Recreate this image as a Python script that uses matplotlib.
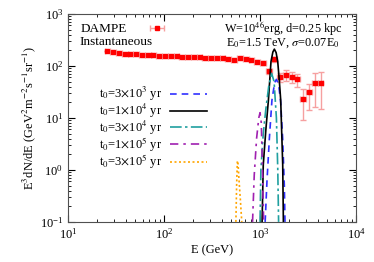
import numpy as np
import matplotlib
matplotlib.use("Agg")
import matplotlib.pyplot as plt

plt.rcParams["font.family"] = ["Liberation Serif", "DejaVu Serif"]
plt.rcParams["mathtext.fontset"] = "stix"

# dati DAMPE: bordi dei bin, centri, E^3 flux ed errori
bin_lo = [24.0, 27.5, 31.6, 36.3, 41.7, 47.9, 55.0, 63.1, 72.4, 83.2, 95.5, 109.6, 125.9,
          144.5, 166.0, 190.5, 218.8, 251.2, 288.4, 331.1, 380.2, 436.5, 501.2, 575.4,
          660.7, 758.6, 871.0, 1000, 1148, 1318, 1514, 1737, 1995, 2291, 2630, 3020, 3467, 3981]
bin_hi = [27.5, 31.6, 36.3, 41.7, 47.9, 55.0, 63.1, 72.4, 83.2, 95.5, 109.6, 125.9, 144.5,
          166.0, 190.5, 218.8, 251.2, 288.4, 331.1, 380.2, 436.5, 501.2, 575.4, 660.7,
          758.6, 871.0, 1000, 1148, 1318, 1514, 1737, 1995, 2291, 2630, 3020, 3467, 3981, 4570]
dampe_e = [25.7, 29.5, 33.9, 38.9, 44.7, 51.3, 58.9, 67.6, 77.6, 89.1, 102.3, 117.5, 134.9,
           154.9, 177.8, 204.2, 234.4, 269.2, 309.0, 354.8, 407.4, 467.7, 537.0, 616.6,
           708.0, 812.8, 933.3, 1071, 1230, 1413, 1622, 1862, 2138, 2455, 2818, 3236, 3715, 4266]
dampe_f = [194, 184, 178, 173, 169, 166, 163, 161, 159, 158, 156, 154, 152,
           150, 149, 147, 146, 144, 143, 141, 139, 137, 127, 141,
           137, 130, 121, 113, 80, 136, 62, 67, 60, 55, 23, 32, 46, 47]
err_dn = [3, 3, 3, 3, 3, 3, 3, 3, 3, 3, 3, 3, 3,
          3, 3, 3, 3, 3, 3, 4, 4, 4, 5, 5,
          6, 7, 8, 9, 9, 15, 12, 15, 14, 15, 14, 18, 30, 32]
err_up = [3, 3, 3, 3, 3, 3, 3, 3, 3, 3, 3, 3, 3,
          3, 3, 3, 3, 3, 3, 4, 4, 4, 5, 5,
          6, 7, 8, 9, 9, 15, 12, 17, 16, 14, 13, 12, 27, 30]

# curve dei modelli
e_3e3 = [1130, 1180, 1250, 1330, 1420, 1480, 1560, 1640, 1720, 1790, 1820]
f_3e3 = [0.1, 0.6, 4, 22, 48, 55, 45, 20, 4, 0.5, 0.1]
e_1e4 = [1050, 1080, 1150, 1222, 1300, 1360, 1410, 1470, 1528, 1590, 1641, 1722, 1750]
f_1e4 = [0.1, 1.25, 6, 22, 121, 185, 210, 180, 121, 50, 22, 1.25, 0.1]
e_3e4 = [1000, 1020, 1080, 1150, 1230, 1320, 1400, 1480, 1530, 1560]
f_3e4 = [0.1, 1, 5, 15, 40, 72, 50, 10, 1, 0.1]
e_1e5 = [835, 870, 920, 970, 1000, 1030, 1060, 1090]
f_1e5 = [0.1, 0.8, 4, 10, 12.6, 8, 1, 0.1]
e_3e5 = [560, 570, 580, 590, 605, 625, 645]
f_3e5 = [0.1, 0.5, 1.5, 1.3, 0.6, 0.25, 0.1]

fig = plt.figure(figsize=(3.74, 2.62), dpi=100)
ax = fig.add_axes([0.182, 0.153, 0.770, 0.794])

# dati DAMPE
xerr = [np.array(dampe_e) - np.array(bin_lo), np.array(bin_hi) - np.array(dampe_e)]
ax.errorbar(dampe_e, dampe_f, xerr=xerr, yerr=[err_dn, err_up], fmt="s", color="red",
            ms=3, ecolor="#f6a0a0", elinewidth=1, capsize=2, zorder=4)
# simbolo per la legenda (solo barra orizzontale, fuori dal grafico)
eb_leg = ax.errorbar([20], [1e-6], xerr=[[1]], fmt="s", color="red", ms=3,
                     ecolor="#f6a0a0", elinewidth=1, capsize=2)

# modelli
l1, = ax.plot(e_3e3, f_3e3, color="#3030ff", lw=1.2, dashes=(4, 3), zorder=6)
l2, = ax.plot(e_1e4, f_1e4, color="black", lw=1.2, zorder=6)
l3, = ax.plot(e_3e4, f_3e4, color="#20a0a0", lw=1.2, dashes=(7, 2, 1.5, 2), zorder=6)
l4, = ax.plot(e_1e5, f_1e5, color="#a020b0", lw=1.2, dashes=(5, 3, 1.5, 3), zorder=6)
l5, = ax.plot(e_3e5, f_3e5, color="#ffa500", lw=1.2, dashes=(1.2, 1.5), zorder=6)

ax.set_xscale("log")
ax.set_yscale("log")
ax.set_xlim(10, 1e4)
ax.set_ylim(0.1, 1e3)
ax.tick_params(which="both", direction="in", top=True, right=True, labelsize=9)
ax.tick_params(which="major", length=5)
ax.tick_params(which="minor", length=2.5)
for sp in ax.spines.values():
    sp.set_color("#505050")

ax.set_xlabel("E (GeV)", fontsize=9, labelpad=2)
ax.set_ylabel(r"E$^3$dN/dE (GeV$^2$m$^{-2}$s$^{-1}$sr$^{-1}$)", fontsize=9, labelpad=1)

# legenda dati
leg1 = ax.legend([eb_leg], ["DAMPE"], loc="upper left", frameon=False, markerfirst=False,
                 fontsize=9.5, handlelength=3.0, borderaxespad=0.3, bbox_to_anchor=(0.01, 1.0))
ax.add_artist(leg1)
ax.text(0.04, 0.865, "Instantaneous", transform=ax.transAxes, fontsize=9.5, va="center")

ax.text(0.955, 0.932, r"W=10$^{46}$erg, d=0.25 kpc", transform=ax.transAxes,
        fontsize=8.8, ha="right", va="center")
ax.text(0.945, 0.858, r"E$_0$=1.5 TeV, $\sigma$=0.07E$_0$", transform=ax.transAxes,
        fontsize=8.8, ha="right", va="center")

# legenda modelli
labels = [r"t$_0$=3$\times$10$^3$ yr", r"t$_0$=1$\times$10$^4$ yr", r"t$_0$=3$\times$10$^4$ yr",
          r"t$_0$=1$\times$10$^5$ yr", r"t$_0$=3$\times$10$^5$ yr"]
ax.legend([l1, l2, l3, l4, l5], labels, loc="lower left", bbox_to_anchor=(0.09, 0.22),
          frameon=False, markerfirst=False, fontsize=9, handlelength=3.0,
          labelspacing=-0.12, borderaxespad=0.0, handletextpad=0.6)

fig.savefig("out.png", dpi=100)
